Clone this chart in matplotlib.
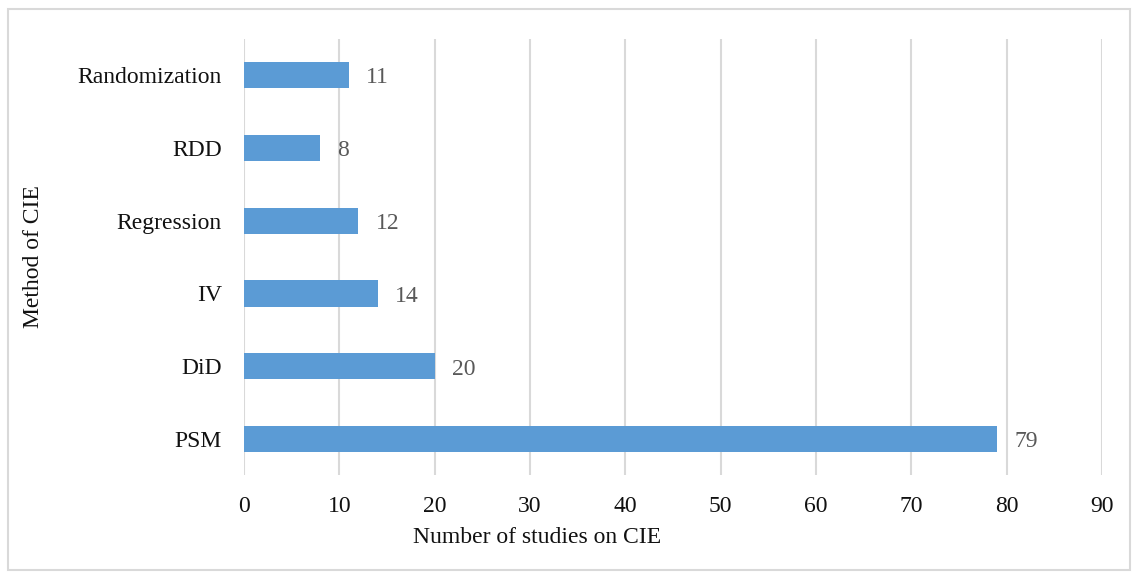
import matplotlib.pyplot as plt
from matplotlib.patches import Rectangle

methods = ["PSM", "DiD", "IV", "Regression", "RDD", "Randomization"]
counts = [79, 20, 14, 12, 8, 11]
x_ticks = [0, 10, 20, 30, 40, 50, 60, 70, 80, 90]

plt.rcParams["font.family"] = ["Liberation Serif", "DejaVu Serif"]

fig = plt.figure(figsize=(11.34, 5.77), dpi=100)
ax = fig.add_axes([0.2152, 0.176, 0.7566, 0.757])

ypos = list(range(len(methods)))
ax.barh(ypos, counts, height=0.36, color="#5B9BD5", zorder=3)
for y, v in zip(ypos, counts):
    ax.text(v + 1.8, y - 0.04, str(v), va="center", ha="left", fontsize=17, color="#595959")

ax.set_xlim(0, 90)
ax.set_ylim(-0.5, len(methods) - 0.5)
ax.set_xticks(x_ticks)
ax.set_yticks(ypos)
ax.set_yticklabels(methods)
ax.tick_params(axis="both", length=0, labelsize=17, colors="#111111")
ax.tick_params(axis="x", pad=15)
ax.tick_params(axis="y", pad=16)
ax.xaxis.grid(True, color="#D9D9D9", linewidth=1.5, zorder=0)
for s in ax.spines.values():
    s.set_visible(False)

ax.set_xlabel("Number of studies on CIE", fontsize=17, color="#111111")
ax.set_ylabel("Method of CIE", fontsize=17, color="#111111", labelpad=24)
ax.xaxis.set_label_coords(0.3415, -0.118)

# light border around the chart area, like the Excel frame
fig.patches.append(Rectangle((8 / 1134, 7 / 577), 1122 / 1134, 561 / 577,
                             transform=fig.transFigure, fill=False,
                             edgecolor="#D9D9D9", linewidth=1.5))

fig.savefig("out.png", dpi=100)
plt.close(fig)
